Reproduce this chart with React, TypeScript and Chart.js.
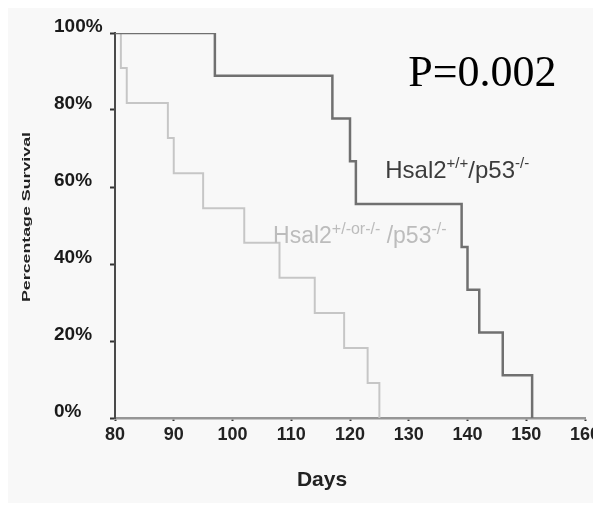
import React, { useEffect, useRef } from 'react';
import { Chart, registerables } from 'chart.js';

Chart.register(...registerables);

// Kaplan-Meier data (days, % survival)
const darkDays = [80, 97, 117, 120, 121, 139, 140, 142, 146, 151];
const darkSurvival = [100, 88.9, 77.8, 66.7, 55.6, 44.4, 33.3, 22.2, 11.1, 0];
const lightDays = [80, 81, 82, 89, 90, 95, 102, 108, 114, 119, 123, 125];
const lightSurvival = [100, 90.9, 81.8, 72.7, 63.6, 54.5, 45.5, 36.4, 27.3, 18.2, 9.1, 0];

const xTickValues = [80, 90, 100, 110, 120, 130, 140, 150, 160];
const xTickLabels = ['80', '90', '100', '110', '120', '130', '140', '150', '160'];
const yTickValues = [0, 20, 40, 60, 80, 100];
const yTickLabels = ['0%', '20%', '40%', '60%', '80%', '100%'];

const xTitle = 'Days';
const yTitle = 'Percentage Survival';
const pValueText = 'P=0.002';
const darkLabelParts = [
  { t: 'Hsal2', sup: false },
  { t: '+/+', sup: true },
  { t: '/p53', sup: false },
  { t: '-/-', sup: true },
];
const lightLabelParts = [
  { t: 'Hsal2', sup: false },
  { t: '+/-or-/-', sup: true },
  { t: ' /p53', sup: false },
  { t: '-/-', sup: true },
];

const SANS = '"Liberation Sans", Arial, sans-serif';
const SERIF = '"Liberation Serif", "Times New Roman", serif';

function drawRich(ctx: CanvasRenderingContext2D, parts: { t: string; sup: boolean }[], x: number, y: number, mainSize: number, supSize: number, rise: number) {
  let cx = x;
  ctx.textAlign = 'left';
  ctx.textBaseline = 'alphabetic';
  for (const p of parts) {
    ctx.font = `${p.sup ? supSize : mainSize}px ${SANS}`;
    ctx.fillText(p.t, cx, p.sup ? y - rise : y);
    cx += ctx.measureText(p.t).width;
  }
}

const annotationPlugin = {
  id: 'annotations',
  afterDraw(chart: any) {
    const ctx: CanvasRenderingContext2D = chart.ctx;
    const xs = chart.scales.x;
    const ys = chart.scales.y;
    const area = chart.chartArea;
    ctx.save();

    // P value
    ctx.fillStyle = '#000000';
    ctx.font = `44px ${SERIF}`;
    ctx.textAlign = 'left';
    ctx.textBaseline = 'alphabetic';
    ctx.fillText(pValueText, xs.getPixelForValue(129.9), ys.getPixelForValue(86.2));

    // series labels
    ctx.fillStyle = '#3c3c3c';
    drawRich(ctx, darkLabelParts, xs.getPixelForValue(126), ys.getPixelForValue(62.3), 24, 15, 10);
    ctx.fillStyle = '#bcbcbc';
    drawRich(ctx, lightLabelParts, xs.getPixelForValue(106.9), ys.getPixelForValue(45.5), 23, 16, 9);

    // x title
    ctx.fillStyle = '#222222';
    ctx.font = `bold 21px ${SANS}`;
    ctx.textAlign = 'center';
    ctx.textBaseline = 'middle';
    ctx.fillText(xTitle, area.left + 207, area.bottom + 62);

    // y title (condensed-height, stretched text as in reference)
    ctx.font = `bold 11px ${SANS}`;
    const w = ctx.measureText(yTitle).width;
    const sx = 170 / w;
    ctx.translate(area.left - 88.5, area.top + 184);
    ctx.rotate(-Math.PI / 2);
    ctx.scale(sx, 1.05);
    ctx.fillStyle = '#222222';
    ctx.fillText(yTitle, 0, 0);
    ctx.restore();
  },
};

export default function App() {
  const canvasRef = useRef<HTMLCanvasElement | null>(null);

  useEffect(() => {
    if (!canvasRef.current) return;
    const chart = new Chart(canvasRef.current, {
      type: 'line',
      data: {
        datasets: [
          {
            label: 'Hsal2+/+/p53-/-',
            data: darkDays.map((d, i) => ({ x: d, y: darkSurvival[i] })),
            borderColor: '#707070',
            borderWidth: 2.5,
            stepped: 'before',
            pointRadius: 0,
            fill: false,
          },
          {
            label: 'Hsal2+/-or-/-/p53-/-',
            data: lightDays.map((d, i) => ({ x: d, y: lightSurvival[i] })),
            borderColor: '#c6c6c6',
            borderWidth: 2,
            stepped: 'before',
            pointRadius: 0,
            fill: false,
          },
        ],
      },
      options: {
        animation: false,
        responsive: false,
        layout: { padding: { left: 46, top: 25, right: 9, bottom: 0 } },
        plugins: {
          legend: { display: false },
          tooltip: { enabled: false },
          title: { display: false },
        },
        scales: {
          x: {
            type: 'linear',
            min: 80,
            max: 160,
            afterFit: (s: any) => {
              s.height = 85;
              s.paddingLeft = 0;
              s.paddingRight = 0;
            },
            afterBuildTicks: (s: any) => {
              s.ticks = xTickValues.map((v) => ({ value: v }));
            },
            ticks: {
              autoSkip: false,
              maxRotation: 0,
              padding: 3,
              color: '#222222',
              font: { family: SANS, size: 18, weight: 'bold' },
              callback: (v: any) => {
                const i = xTickValues.indexOf(Number(v));
                return i >= 0 ? xTickLabels[i] : '';
              },
            },
            grid: {
              display: true,
              drawOnChartArea: false,
              drawTicks: true,
              tickLength: 3,
              tickWidth: 2,
              tickColor: '#333333',
            },
            border: { display: true, color: '#969696', width: 2.5 },
            title: { display: false },
          },
          y: {
            type: 'linear',
            min: 0,
            max: 100,
            afterFit: (s: any) => {
              s.width = 61;
              s.paddingTop = 0;
              s.paddingBottom = 0;
            },
            afterBuildTicks: (s: any) => {
              s.ticks = yTickValues.map((v) => ({ value: v }));
            },
            ticks: {
              autoSkip: false,
              crossAlign: 'far',
              labelOffset: -6,
              padding: 8,
              color: '#1a1a1a',
              font: { family: SANS, size: 19, weight: 'bold' },
              callback: (v: any) => {
                const i = yTickValues.indexOf(Number(v));
                return i >= 0 ? yTickLabels[i] : '';
              },
            },
            grid: {
              display: true,
              drawOnChartArea: false,
              drawTicks: true,
              tickLength: 5,
              tickWidth: 2,
              tickColor: '#333333',
            },
            border: { display: true, color: '#4a4a4a', width: 2 },
            title: { display: false },
          },
        },
      },
      plugins: [annotationPlugin],
    } as any);
    return () => chart.destroy();
  }, []);

  return (
    <div style={{ width: 586, height: 495, background: '#f8f8f8' }}>
      <canvas ref={canvasRef} width={586} height={495} style={{ display: 'block' }} />
    </div>
  );
}
